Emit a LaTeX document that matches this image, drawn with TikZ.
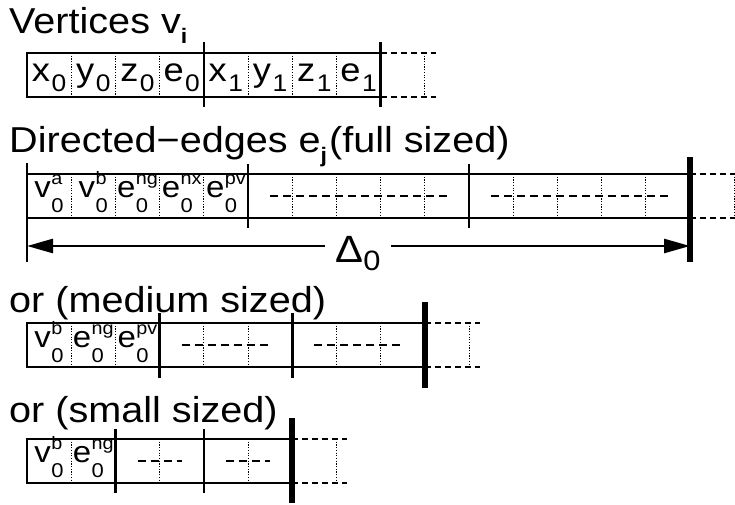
\documentclass[tikz,border=0pt]{standalone}
\usepackage{fontspec}
\setmainfont{Liberation Sans}[FakeStretch=1.1]
\usetikzlibrary{arrows.meta, positioning}

% field with super- and subscript, and vertex field with subscript
\newcommand{\fld}[3]{#1\hspace{0.5pt}\ooalign{\raisebox{13pt}{\fontsize{18}{18}\selectfont #2}\cr\raisebox{-15pt}{\fontsize{20}{20}\selectfont #3}}}
\newcommand{\vfld}[2]{#1\hspace{1.5pt}\raisebox{-10pt}{\fontsize{24}{24}\selectfont #2}}
\newcommand{\idx}[1]{\raisebox{-10pt}{\fontsize{21}{21}\selectfont\bfseries #1}}

\begin{document}
\begin{tikzpicture}[
    x=1pt, y=-1pt,
    frame/.style={line width=1.4pt},
    sep/.style={line width=0.9pt, dash pattern=on 1.2pt off 1.5pt},
    ext/.style={line width=1.2pt, dash pattern=on 6pt off 4pt},
    mid/.style={line width=1.2pt, dash pattern=on 8pt off 5pt},
    divider/.style={line width=2.6pt},
    bound/.style={line width=6pt},
    arrow/.style={line width=2.6pt, -{Triangle[length=26pt,width=14pt]}},
    title/.style={anchor=base west, inner sep=0pt, font=\fontsize{36}{38}\selectfont},
    field/.style={anchor=base, inner sep=0pt, font=\fontsize{30}{32}\selectfont},
    vfield/.style={anchor=base, inner sep=0pt, font=\fontsize{33}{35}\selectfont}
]
\def\w{44.2}
\useasboundingbox (0,0) rectangle (735,505);

% vertices
\node[title] (vtitle) at (9,34) {Vertices v\idx{i}};
\draw[frame] (27,53) rectangle ({27+8*\w},97);
\foreach \i in {1,2,3,5,6,7}
    \draw[sep] ({27+\i*\w},53) -- ({27+\i*\w},97);
\foreach \i in {4,8}
    \draw[divider] ({27+\i*\w},42) -- ({27+\i*\w},107);
\draw[ext] ({27+8*\w},53) -- ++(55,0) ({27+8*\w},97) -- ++(55,0);
\draw[sep] ({27+9*\w},53) -- ({27+9*\w},97);
\foreach \c/\s [count=\i from 0] in {x/0,y/0,z/0,e/0,x/1,y/1,z/1,e/1}
    \node[vfield] (vert\i) at ({27+(\i+0.5)*\w},82) {\vfld{\c}{\s}};

% full sized edges
\node[title] (ftitle) at (9,153) {Directed−edges e\idx{j}\hspace{2pt}(full sized)};
\draw[frame] (27,174) rectangle ({27+15*\w},218);
\foreach \i in {1,2,3,4,6,7,8,9,11,12,13,14}
    \draw[sep] ({27+\i*\w},174) -- ({27+\i*\w},218);
\foreach \i in {5,10}
    \draw[divider] ({27+\i*\w},164) -- ({27+\i*\w},228);
\foreach \g in {1,2}
    \draw[mid] ({27+(5*\g+0.5)*\w},196) -- ({27+(5*\g+4.5)*\w},196);
\draw[ext] ({27+15*\w},174) -- ++(55,0) ({27+15*\w},218) -- ++(55,0);
\draw[sep] ({27+16*\w},174) -- ({27+16*\w},218);
\foreach \c/\p/\s [count=\i from 0] in {v/a/0,v/b/0,e/ng/0,e/nx/0,e/pv/0}
    \node[field] (full\i) at ({27+(\i+0.5)*\w},197) {\fld{\c}{\p}{\s}};
\draw[divider] (27,163) -- (27,262);
\draw[bound] ({27+15*\w},157) -- ({27+15*\w},262);
\coordinate (lft) at (27,246);
\coordinate (rgt) at ({27+15*\w},246);
\node[anchor=base, inner sep=0pt, font=\fontsize{38}{38}\selectfont] (delta) at (358,262) {Δ\raisebox{-8pt}{\fontsize{28}{28}\selectfont 0}};
\draw[arrow, shorten <=10pt] (delta.west |- lft) -- (lft);
\draw[arrow, shorten <=10pt] (delta.east |- rgt) -- (rgt);

% medium sized edges
\node[title] (mtitle) at (9,312) {or (medium sized)};
\draw[frame] (27,323) rectangle ({27+9*\w},367);
\foreach \i in {1,2,4,5,7,8}
    \draw[sep] ({27+\i*\w},323) -- ({27+\i*\w},367);
\foreach \i in {3,6}
    \draw[divider] ({27+\i*\w},313) -- ({27+\i*\w},378);
\foreach \g in {1,2}
    \draw[mid] ({27+(3*\g+0.5)*\w},345) -- ({27+(3*\g+2.5)*\w},345);
\draw[ext] ({27+9*\w},323) -- ++(55,0) ({27+9*\w},367) -- ++(55,0);
\draw[sep] ({27+10*\w},323) -- ({27+10*\w},367);
\foreach \c/\p/\s [count=\i from 0] in {v/b/0,e/ng/0,e/pv/0}
    \node[field] (med\i) at ({27+(\i+0.5)*\w},347) {\fld{\c}{\p}{\s}};
\draw[bound] ({27+9*\w},302) -- ({27+9*\w},388);

% small sized edges
\node[title] (stitle) at (9,422) {or (small sized)};
\draw[frame] (27,439) rectangle ({27+6*\w},483);
\foreach \i in {1,3,5}
    \draw[sep] ({27+\i*\w},439) -- ({27+\i*\w},483);
\foreach \i in {2,4}
    \draw[divider] ({27+\i*\w},429) -- ({27+\i*\w},493);
\foreach \g in {1,2}
    \draw[mid] ({27+(2*\g+0.5)*\w},461) -- ({27+(2*\g+1.5)*\w},461);
\draw[ext] ({27+6*\w},439) -- ++(55,0) ({27+6*\w},483) -- ++(55,0);
\draw[sep] ({27+7*\w},439) -- ({27+7*\w},483);
\foreach \c/\p/\s [count=\i from 0] in {v/b/0,e/ng/0}
    \node[field] (small\i) at ({27+(\i+0.5)*\w},462) {\fld{\c}{\p}{\s}};
\draw[bound] ({27+6*\w},418) -- ({27+6*\w},503);
\end{tikzpicture}
\end{document}
